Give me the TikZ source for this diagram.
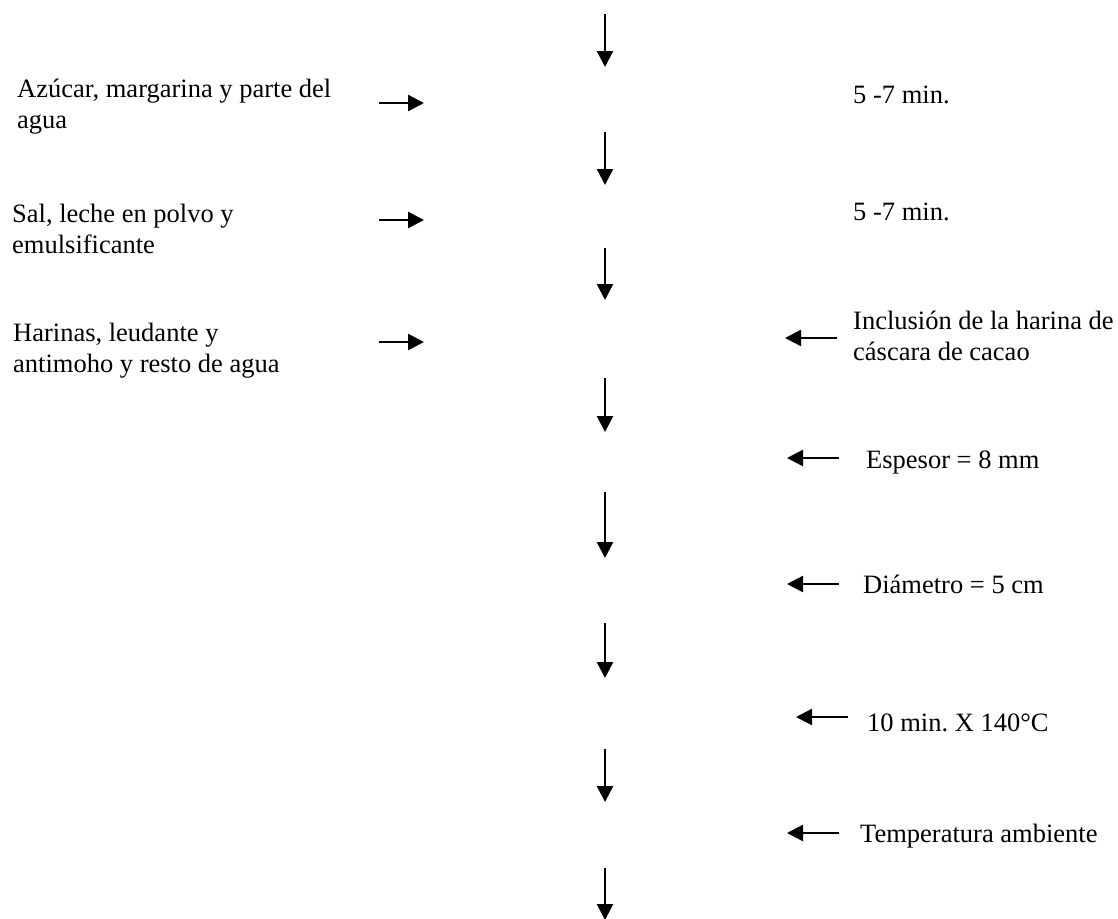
\documentclass[tikz,border=0pt]{standalone}
\usepackage{fontspec}
\setmainfont{Liberation Serif}
\usetikzlibrary{arrows.meta}

\begin{document}
\begin{tikzpicture}[x=1pt,y=-1pt,
	flecha/.style={line width=2.4pt,-{Triangle[length=16pt,width=16pt]}},
	texto/.style={anchor=base west,inner sep=0pt,align=left,
		font=\fontsize{26.5}{30.5}\selectfont\frenchspacing}]

% parameters %{{{2

	\def\colx{605}
	\useasboundingbox (0,0) rectangle (1118,918);

% coordinates %{{{2

	% vertical flow
	\foreach \i/\ya/\yb in {1/14/67,2/132/185,3/248/300,4/378/432,
		5/492/558,6/623/678,7/749/802,8/868/920} {
		\coordinate (A\i) at (\colx,\ya);
		\coordinate (B\i) at (\colx,\yb);
	}
	% inputs from the left
	\foreach \i/\y in {1/103,2/220,3/342} {
		\coordinate (E\i) at (379,\y);
		\coordinate (F\i) at (424,\y);
	}
	% inputs from the right
	\foreach \i/\xa/\xb/\y in {1/837/785/338,2/839/787/458,3/839/787/584,
		4/848/796/717,5/839/787/833} {
		\coordinate (R\i) at (\xa,\y);
		\coordinate (S\i) at (\xb,\y);
	}

% arrows %{{{2

	\foreach \i in {1,...,8} { \draw[flecha] (A\i) -- (B\i); }
	\foreach \i in {1,...,3} { \draw[flecha] (E\i) -- (F\i); }
	\foreach \i in {1,...,5} { \draw[flecha] (R\i) -- (S\i); }

% labels, left %{{{2

	% base anchor sits on the last line
	\node[texto] (azucar) at (17,128) {Azúcar, margarina y parte del\\agua};
	\node[texto] (sal) at (12,253) {Sal, leche en polvo y\\emulsificante};
	\node[texto] (harinas) at (13,372) {Harinas, leudante y\\antimoho y resto de agua};

% labels, right %{{{2

	\node[texto] (batido) at (853,103) {5 -7 min.};
	\node[texto] (mezcla) at (853,220) {5 -7 min.};
	\node[texto] (inclusion) at (853,360) {Inclusión de la harina de\\cáscara de cacao};
	\node[texto] (espesor) at (866,468) {Espesor = 8 mm};
	\node[texto] (diametro) at (863,593) {Diámetro = 5 cm};
	\node[texto] (horneo) at (867,731) {10 min. X 140°C};
	\node[texto] (enfriado) at (860,842) {Temperatura ambiente};

% closing %{{{2

\end{tikzpicture}
\end{document}
